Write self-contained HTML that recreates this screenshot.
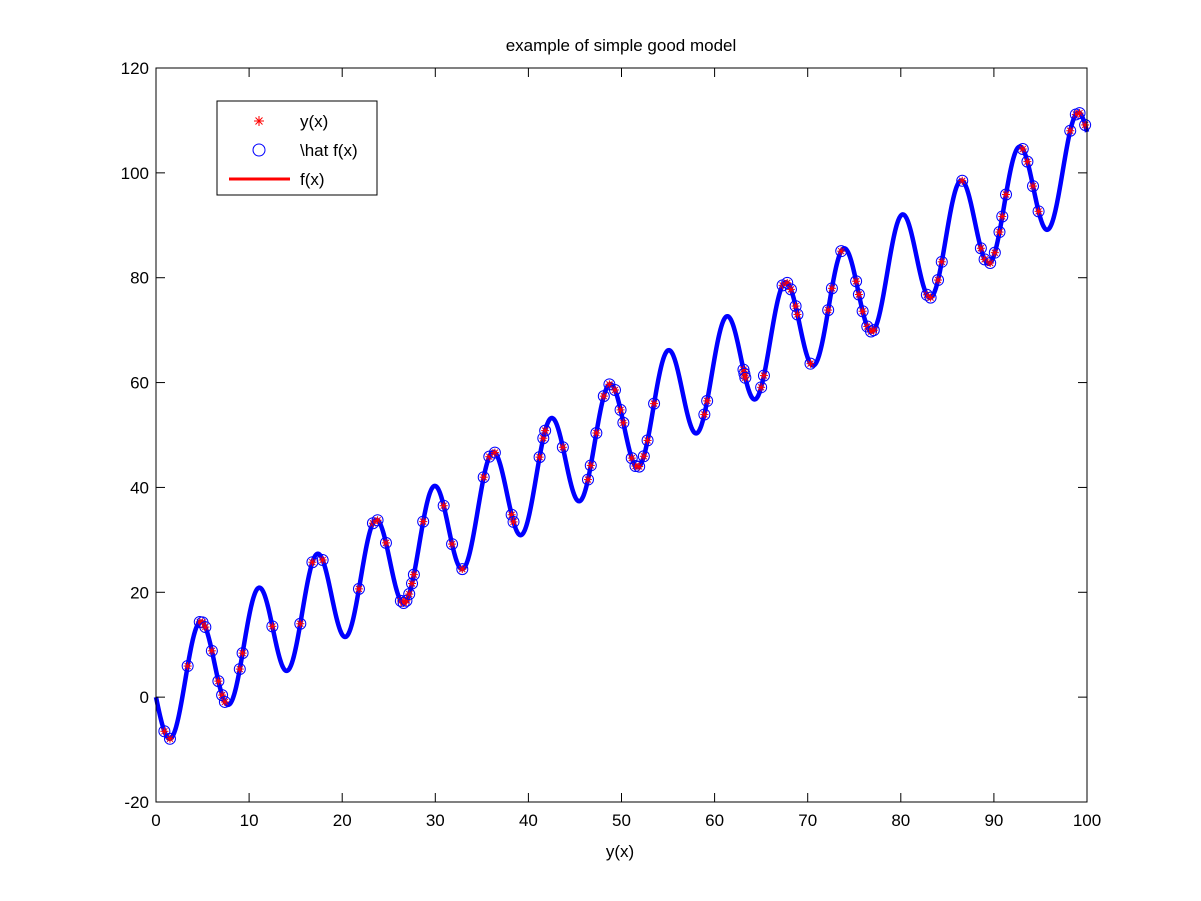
<!DOCTYPE html>
<html><head><meta charset="utf-8"><style>
html,body{margin:0;padding:0;background:#fff;}
svg{display:block;font-family:"Liberation Sans",Arial,sans-serif;}
</style></head><body>
<svg id="s" width="1201" height="901" xmlns="http://www.w3.org/2000/svg">
<rect width="1201" height="901" fill="#fff"/>
<g id="plot"></g>
<rect x="156" y="68" width="931" height="734" fill="none" stroke="#000" stroke-width="1"/>
<g id="ticks" stroke="#000" stroke-width="1"></g>
<g id="labels" font-size="17" fill="#000"></g>
<text x="621" y="51" font-size="17" text-anchor="middle">example of simple good model</text>
<text x="620" y="857" font-size="17" text-anchor="middle">y(x)</text>
<rect x="217" y="101" width="160" height="94" fill="#fff" stroke="#000"/>
<g stroke="#f00" stroke-width="1">
<line x1="254" y1="121" x2="264" y2="121"/><line x1="259" y1="116" x2="259" y2="126"/>
<line x1="255.5" y1="117.5" x2="262.5" y2="124.5"/><line x1="255.5" y1="124.5" x2="262.5" y2="117.5"/>
</g>
<circle cx="259" cy="150" r="6" fill="none" stroke="#00f"/>
<line x1="229" y1="179" x2="290" y2="179" stroke="#f00" stroke-width="3"/>
<text x="300" y="127" font-size="17">y(x)</text>
<text x="300" y="156" font-size="17">\hat f(x)</text>
<text x="300" y="185" font-size="17">f(x)</text>
</svg>
<script>
var X0=156,XS=9.31,Y0=802,YS=734/140;
function px(x){return X0+x*XS;} function py(y){return Y0-(y+20)*YS;}
function f(x){return 1.03*x-9.5*Math.sin(x);}
var ns="http://www.w3.org/2000/svg";
function el(t,a,p){var e=document.createElementNS(ns,t);for(var k in a)e.setAttribute(k,a[k]);p.appendChild(e);return e;}
var plot=document.getElementById("plot");
var d="";for(var i=0;i<=2000;i++){var x=i*0.05;d+=(i?"L":"M")+px(x).toFixed(2)+","+py(f(x)).toFixed(2);}
el("path",{d:d,fill:"none",stroke:"#00f","stroke-width":4.5},plot);
var xs=[0.9,1.5,3.4,4.7,5.0,5.3,6.0,6.7,7.1,7.4,9.0,9.3,12.5,15.5,16.8,17.9,21.8,23.3,23.8,24.7,26.3,26.6,26.9,27.2,27.5,27.7,28.7,30.9,31.8,32.9,35.2,35.8,36.4,38.2,38.4,41.2,41.6,41.8,43.7,46.4,46.7,47.3,48.1,48.7,49.3,49.9,50.2,51.1,51.5,51.9,52.4,52.8,53.5,58.9,59.2,63.1,63.2,63.3,65.0,65.3,67.3,67.8,68.2,68.7,68.9,70.3,72.2,72.6,73.6,75.2,75.5,75.9,76.4,76.8,77.1,82.8,83.2,84.0,84.4,86.6,88.6,89.0,89.6,90.1,90.6,90.9,91.3,93.1,93.6,94.2,94.8,98.2,98.8,99.2,99.8];
xs.forEach(function(x){var cx=px(x),cy=py(f(x));
var g=el("g",{stroke:"#f00","stroke-width":1},plot);
el("line",{x1:cx-4,y1:cy,x2:cx+4,y2:cy},g);el("line",{x1:cx,y1:cy-4,x2:cx,y2:cy+4},g);
el("line",{x1:cx-3,y1:cy-3,x2:cx+3,y2:cy+3},g);el("line",{x1:cx-3,y1:cy+3,x2:cx+3,y2:cy-3},g);
el("circle",{cx:cx,cy:cy,r:5.5,fill:"none",stroke:"#00f"},plot);});
var tk=document.getElementById("ticks"),lb=document.getElementById("labels");
for(var v=0;v<=100;v+=10){var x=px(v);el("line",{x1:x,y1:802,x2:x,y2:793},tk);el("line",{x1:x,y1:68,x2:x,y2:77},tk);
var t=el("text",{x:x,y:826,"text-anchor":"middle"},lb);t.textContent=v;}
for(var v=-20;v<=120;v+=20){var y=py(v);el("line",{x1:156,y1:y,x2:165,y2:y},tk);el("line",{x1:1087,y1:y,x2:1078,y2:y},tk);
var t=el("text",{x:149,y:y+6,"text-anchor":"end"},lb);t.textContent=v;}
</script>
</body></html>
